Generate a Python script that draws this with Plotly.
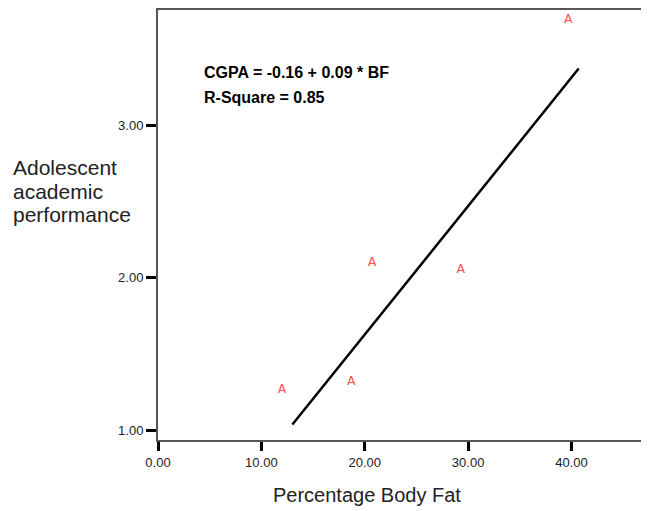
import plotly.graph_objects as go

# Data
bf = [12.0, 18.7, 20.7, 29.3, 39.7]
cgpa = [1.27, 1.32, 2.10, 2.05, 3.69]
point_labels = ["A", "A", "A", "A", "A"]
fit_x = [13.0, 40.7]
fit_y = [1.04, 3.37]
x_ticks = [0, 10, 20, 30, 40]
y_ticks = [1, 2, 3]
eq_lines = ["CGPA = -0.16 + 0.09 * BF", "R-Square = 0.85"]
y_title_lines = ["Adolescent", "academic", "performance"]
x_title = "Percentage Body Fat"

OFF = 8  # page body margin
W, H = 649 - OFF, 511 - OFF
L, R, T, B = 158 - OFF, 0, 10 - OFF, 71

def px(x):
    return (x - OFF - L) / (W - L - R)

def py(y):
    return 1 - (y - OFF - T) / (H - T - B)

fig = go.Figure()
fig.add_trace(go.Scatter(x=fit_x, y=fit_y, mode="lines",
                         line=dict(color="black", width=2.5), hoverinfo="skip"))
fig.add_trace(go.Scatter(x=bf, y=cgpa, mode="text", text=point_labels,
                         textfont=dict(family="DejaVu Sans", size=12.5, color="#ff5050"),
                         textposition="middle center"))

font = "Liberation Sans, Arial, sans-serif"
fig.update_layout(
    width=W, height=H, autosize=False,
    margin=dict(l=L, r=R, t=T, b=B),
    paper_bgcolor="white", plot_bgcolor="white",
    showlegend=False,
    font=dict(family=font, size=13, color="#222"),
    xaxis=dict(range=[0, 47.5], tickvals=x_ticks, tickformat=".2f",
               showgrid=False, zeroline=False,
               showline=True, linecolor="#555", linewidth=2, mirror=True,
               ticks="outside", ticklen=9, tickwidth=3, tickcolor="black"),
    yaxis=dict(range=[0.939, 3.753], tickvals=y_ticks, tickformat=".2f",
               showgrid=False, zeroline=False,
               showline=True, linecolor="#555", linewidth=2, mirror=False,
               ticks="outside", ticklen=10, tickwidth=3, tickcolor="black"),
)

ann = []
for i, t in enumerate(eq_lines):
    ann.append(dict(text="<b>%s</b>" % t, xref="paper", yref="paper",
                    x=px(202), y=py(73 + 24 * i),
                    xanchor="left", yanchor="middle", showarrow=False,
                    font=dict(family=font, size=16, color="black")))
for i, t in enumerate(y_title_lines):
    ann.append(dict(text=t, xref="paper", yref="paper",
                    x=px(11), y=py(167 + 24 * i),
                    xanchor="left", yanchor="middle", align="left", showarrow=False,
                    font=dict(family=font, size=21, color="#222")))
ann.append(dict(text=x_title, xref="paper", yref="paper",
                x=px(367), y=py(495),
                xanchor="center", yanchor="middle", showarrow=False,
                font=dict(family=font, size=20, color="#222")))
fig.update_layout(annotations=ann)

fig.write_html("out.html")
